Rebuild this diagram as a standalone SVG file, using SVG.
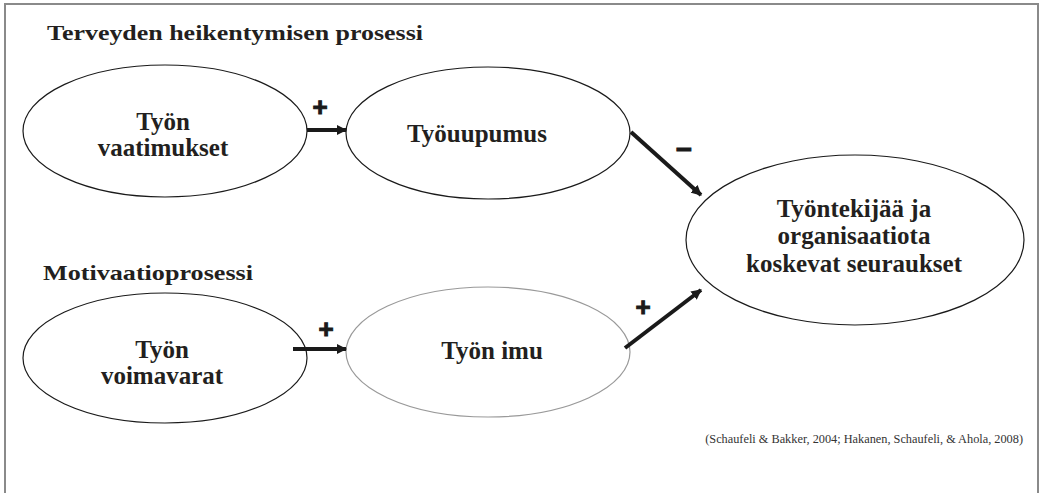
<svg xmlns="http://www.w3.org/2000/svg" width="1043" height="493" viewBox="0 0 1043 493">
<defs>
<style>
.ell{fill:#fff;stroke:#1a1a1a;stroke-width:1.2}
.ell.gray{stroke:#999}
.t{font-family:"Liberation Serif","DejaVu Serif",serif;font-weight:bold;fill:#231f20;text-anchor:middle}
.node{font-size:25px}
.head{font-size:22px;text-anchor:start}
.cite{font-family:"Liberation Serif","DejaVu Serif",serif;font-size:12.3px;fill:#333}
.sign{font-family:"Liberation Sans","DejaVu Sans",sans-serif;font-weight:bold;font-size:26px;fill:#1a1a1a;stroke:#1a1a1a;stroke-width:1;text-anchor:middle}
.arr{stroke:#1a1a1a;stroke-width:4;fill:none;marker-end:url(#ah)}
</style>
<marker id="ah" viewBox="0 0 10 10" refX="9" refY="5" markerWidth="2.6" markerHeight="2.8" orient="auto" markerUnits="strokeWidth">
<path d="M0,0 L10,5 L0,10 Z" fill="#1a1a1a"/>
</marker>
</defs>
<rect width="1043" height="493" fill="#fff"/>
<g id="frame">
<path d="M5,493 V4 H1038 V493" fill="none" stroke="#8a8a8a" stroke-width="2"/>
</g>
<g id="headings">
<text class="t head" x="47" y="40" textLength="376" lengthAdjust="spacingAndGlyphs">Terveyden heikentymisen prosessi</text>
<text class="t head" x="43" y="280" textLength="210" lengthAdjust="spacingAndGlyphs">Motivaatioprosessi</text>
</g>
<g id="n-vaatimukset">
<ellipse class="ell" cx="165" cy="131" rx="142" ry="66"/>
<text class="t node" x="163" y="130">Työn</text>
<text class="t node" x="163" y="156">vaatimukset</text>
</g>
<g id="n-tyouupumus">
<ellipse class="ell" cx="488" cy="133" rx="142" ry="66"/>
<text class="t node" x="477" y="142">Työuupumus</text>
</g>
<g id="n-seuraukset">
<ellipse class="ell" cx="855" cy="240" rx="169" ry="85"/>
<text class="t node" x="854" y="217">Työntekijää ja</text>
<text class="t node" x="854" y="244">organisaatiota</text>
<text class="t node" x="854" y="272">koskevat seuraukset</text>
</g>
<g id="n-voimavarat">
<ellipse class="ell" cx="165" cy="358" rx="142" ry="65"/>
<text class="t node" x="162" y="358">Työn</text>
<text class="t node" x="162" y="384">voimavarat</text>
</g>
<g id="n-imu">
<ellipse class="ell gray" cx="488" cy="352" rx="142" ry="65"/>
<text class="t node" x="492" y="359">Työn imu</text>
</g>
<g id="connectors">
<line class="arr" x1="307" y1="130" x2="346" y2="130"/>
<line class="arr" x1="631" y1="132" x2="701" y2="195"/>
<line class="arr" x1="293" y1="349" x2="346" y2="349"/>
<line class="arr" x1="625" y1="348" x2="701" y2="290"/>
<text class="sign" x="320" y="116">+</text>
<text class="sign" x="684" y="159" style="font-size:28px">−</text>
<text class="sign" x="326" y="338">+</text>
<text class="sign" x="643" y="316">+</text>
</g>
<g id="citation">
<text class="cite" x="1023" y="443" text-anchor="end">(Schaufeli &amp; Bakker, 2004; Hakanen, Schaufeli, &amp; Ahola, 2008)</text>
</g>
</svg>
